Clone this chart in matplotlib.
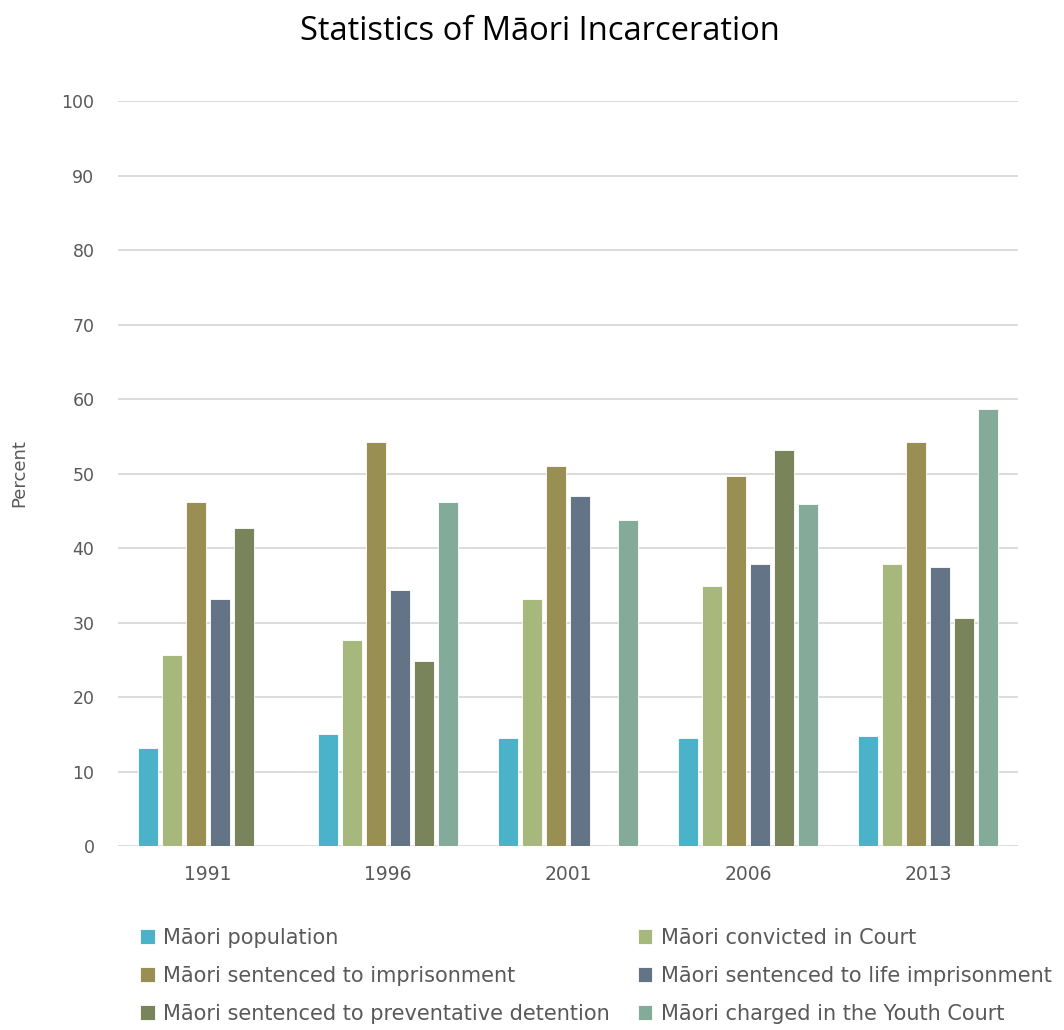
import matplotlib
matplotlib.use("Agg")
import matplotlib.pyplot as plt
import numpy as np

years = ["1991", "1996", "2001", "2006", "2013"]
series_names = [
    "Māori population",
    "Māori convicted in Court",
    "Māori sentenced to imprisonment",
    "Māori sentenced to life imprisonment",
    "Māori sentenced to preventative detention",
    "Māori charged in the Youth Court",
]
population = [13.1, 15.0, 14.5, 14.5, 14.8]
convicted = [25.6, 27.6, 33.2, 34.9, 37.9]
imprisonment = [46.2, 54.3, 51.0, 49.7, 54.3]
life_imprisonment = [33.2, 34.4, 47.0, 37.9, 37.4]
preventative = [42.7, 24.8, np.nan, 53.2, 30.6]
youth_court = [np.nan, 46.2, 43.7, 45.9, 58.7]
y_ticks = [0, 10, 20, 30, 40, 50, 60, 70, 80, 90, 100]

colors = ["#4BB3C9", "#A7B87C", "#9A8F52", "#637487", "#7A845A", "#84AB9A"]
series = [population, convicted, imprisonment, life_imprisonment, preventative, youth_court]

fig = plt.figure(figsize=(10.64, 10.30), dpi=100)
ax = fig.add_axes([0.1109, 0.1786, 0.8459, 0.7233])

x = np.arange(len(years))
pitch = 0.1333
width = 0.108
handles = []
for i, (vals, col, name) in enumerate(zip(series, colors, series_names)):
    offs = (i - 2.5) * pitch
    h = ax.bar(x + offs, vals, width=width, color=col, edgecolor="white",
               linewidth=0.6, label=name, zorder=3)
    handles.append(h)

ax.set_xlim(-0.5, len(years) - 0.5)
ax.set_ylim(0, 100)
ax.set_yticks(y_ticks)
ax.set_xticks(x)
ax.set_xticklabels(years)
ax.grid(axis="y", color="#D9D9D9", linewidth=1.3, zorder=0)
ax.set_axisbelow(True)
for s in ax.spines.values():
    s.set_visible(False)
ax.tick_params(axis="both", length=0, colors="#595959", labelsize=12.5)
ax.tick_params(axis="y", pad=17)
ax.tick_params(axis="x", pad=14, labelsize=13.5)
ax.set_ylabel("Percent", fontsize=13, color="#595959", labelpad=24)

fig.text(0.5075, 0.969, "Statistics of Māori Incarceration", ha="center",
         va="center", fontsize=23.5, family="Open Sans", color="black")

# legend entries laid out row by row across two columns
order = [0, 2, 4, 1, 3, 5]
leg = fig.legend([handles[k] for k in order], [series_names[k] for k in order],
                 loc="upper left", bbox_to_anchor=(0.1316, 0.099), ncol=2,
                 frameon=False, fontsize=15, handlelength=0.7,
                 handleheight=0.7, handletextpad=0.4, columnspacing=1.35,
                 labelspacing=0.86, borderaxespad=0, borderpad=0)
for t in leg.get_texts():
    t.set_color("#595959")

fig.savefig("out.png", dpi=100)
